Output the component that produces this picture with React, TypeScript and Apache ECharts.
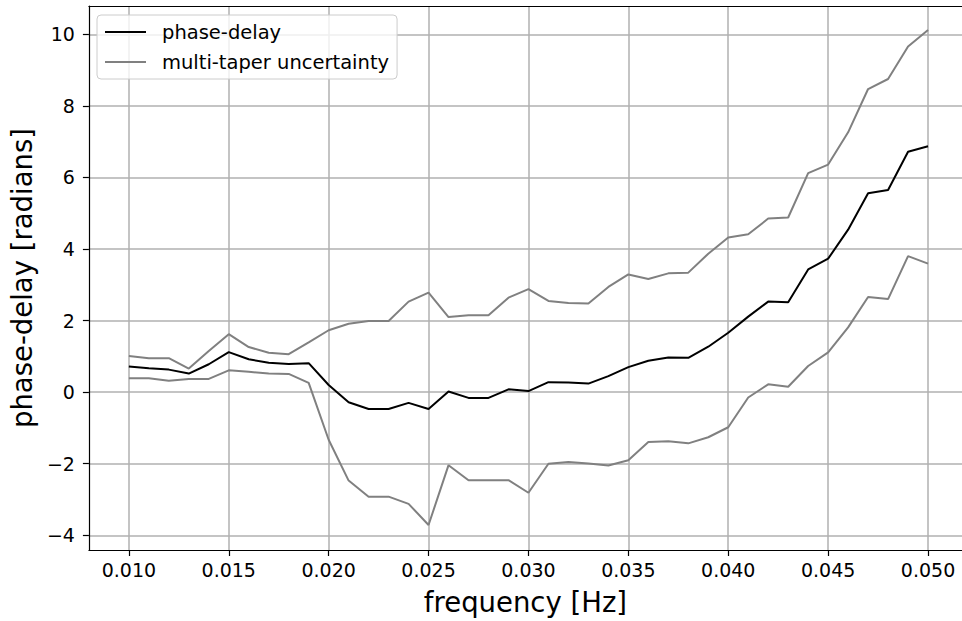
import React, { useEffect, useRef } from "react";
import * as echarts from "echarts";

const freqs = [
  0.010, 0.011, 0.012, 0.013, 0.014, 0.015, 0.016, 0.017, 0.018, 0.019,
  0.020, 0.021, 0.022, 0.023, 0.024, 0.025, 0.026, 0.027, 0.028, 0.029,
  0.030, 0.031, 0.032, 0.033, 0.034, 0.035, 0.036, 0.037, 0.038, 0.039,
  0.040, 0.041, 0.042, 0.043, 0.044, 0.045, 0.046, 0.047, 0.048, 0.049, 0.050,
];

const phaseDelay = [
  0.72, 0.67, 0.63, 0.52, 0.78, 1.12, 0.92, 0.82, 0.79, 0.81,
  0.20, -0.28, -0.47, -0.47, -0.30, -0.47, 0.02, -0.16, -0.16, 0.08,
  0.03, 0.28, 0.27, 0.24, 0.45, 0.70, 0.88, 0.97, 0.96, 1.27,
  1.66, 2.11, 2.53, 2.51, 3.43, 3.73, 4.54, 5.56, 5.65, 6.72, 6.87,
];

const upperBound = [
  1.01, 0.95, 0.95, 0.66, 1.15, 1.62, 1.26, 1.10, 1.06, 1.39,
  1.73, 1.91, 1.99, 1.99, 2.53, 2.78, 2.10, 2.15, 2.15, 2.64,
  2.88, 2.55, 2.49, 2.48, 2.94, 3.29, 3.16, 3.32, 3.34, 3.87,
  4.32, 4.41, 4.85, 4.88, 6.12, 6.36, 7.26, 8.47, 8.75, 9.66, 10.12,
];

const lowerBound = [
  0.39, 0.39, 0.32, 0.37, 0.37, 0.61, 0.57, 0.52, 0.51, 0.26,
  -1.33, -2.47, -2.92, -2.92, -3.12, -3.71, -2.04, -2.46, -2.46, -2.46,
  -2.81, -2.00, -1.95, -1.99, -2.05, -1.90, -1.39, -1.37, -1.43, -1.26,
  -0.98, -0.15, 0.22, 0.15, 0.73, 1.11, 1.81, 2.66, 2.60, 3.80, 3.59,
];

const xTicks = [0.010, 0.015, 0.020, 0.025, 0.030, 0.035, 0.040, 0.045, 0.050];
const yTicks = [-4, -2, 0, 2, 4, 6, 8, 10];

const FONT = "DejaVu Sans";

export default function App() {
  const ref = useRef<HTMLDivElement>(null);

  useEffect(() => {
    document.body.style.margin = "0";
    if (!ref.current) return;
    const chart = echarts.init(ref.current, null, { renderer: "svg" });

    const pairs = (ys: number[]) => freqs.map((f, i) => [f, ys[i]]);

    chart.setOption({
      animation: false,
      backgroundColor: "#ffffff",
      grid: { left: 88, top: 6, right: 0, bottom: 68, containLabel: false },
      legend: {
        orient: "vertical",
        left: 97,
        top: 15,
        data: ["phase-delay", "multi-taper uncertainty"],
        icon: "rect",
        itemWidth: 41,
        itemHeight: 2,
        itemGap: 8,
        padding: [6, 8, 6, 8],
        backgroundColor: "rgba(255,255,255,0.8)",
        borderColor: "#cccccc",
        borderWidth: 1,
        borderRadius: 4,
        textStyle: {
          fontFamily: FONT,
          fontSize: 19.5,
          color: "#000",
          lineHeight: 22,
          padding: [0, 0, 0, 11],
        },
      },
      xAxis: [
        {
          type: "value",
          min: 0.008,
          max: 0.0517,
          name: "frequency [Hz]",
          nameLocation: "middle",
          nameGap: 38,
          nameTextStyle: { fontFamily: FONT, fontSize: 27.5, color: "#000" },
          axisLine: { show: true, onZero: false, lineStyle: { color: "#000", width: 1.2 } },
          axisTick: {
            show: true,
            length: 6,
            customValues: xTicks,
            lineStyle: { color: "#000", width: 1.2 },
          },
          axisLabel: {
            customValues: xTicks,
            margin: 10,
            fontFamily: FONT,
            fontSize: 19,
            color: "#000",
            formatter: (v: number) => v.toFixed(3),
          },
          splitLine: { show: true, lineStyle: { color: "#b0b0b0", width: 1.5 } },
        },
        {
          type: "value",
          position: "top",
          min: 0.008,
          max: 0.0517,
          axisLine: { show: true, onZero: false, lineStyle: { color: "#000", width: 1.2 } },
          axisTick: { show: false },
          axisLabel: { show: false },
          splitLine: { show: false },
        },
      ],
      yAxis: {
        type: "value",
        min: -4.41,
        max: 10.79,
        name: "phase-delay [radians]",
        nameLocation: "middle",
        nameGap: 50,
        nameTextStyle: { fontFamily: FONT, fontSize: 27.5, color: "#000" },
        axisLine: { show: true, onZero: false, lineStyle: { color: "#000", width: 1.2 } },
        axisTick: {
          show: true,
          length: 6,
          customValues: yTicks,
          lineStyle: { color: "#000", width: 1.2 },
        },
        axisLabel: {
          customValues: yTicks,
          margin: 14,
          fontFamily: FONT,
          fontSize: 19,
          color: "#000",
          formatter: (v: number) => (v < 0 ? "\u2212" + Math.abs(v) : String(v)),
        },
        splitLine: { show: true, lineStyle: { color: "#b0b0b0", width: 1.5 } },
      },
      series: [
        {
          name: "phase-delay",
          type: "line",
          data: pairs(phaseDelay),
          symbol: "none",
          color: "#000000",
          lineStyle: { color: "#000000", width: 2 },
          z: 5,
        },
        {
          name: "multi-taper uncertainty",
          type: "line",
          data: pairs(upperBound),
          symbol: "none",
          color: "#808080",
          lineStyle: { color: "#808080", width: 2 },
          z: 4,
        },
        {
          name: "multi-taper uncertainty",
          type: "line",
          data: pairs(lowerBound),
          symbol: "none",
          color: "#808080",
          lineStyle: { color: "#808080", width: 2 },
          z: 4,
        },
      ],
    });

    return () => chart.dispose();
  }, []);

  return <div ref={ref} style={{ width: 962, height: 621 }} />;
}
